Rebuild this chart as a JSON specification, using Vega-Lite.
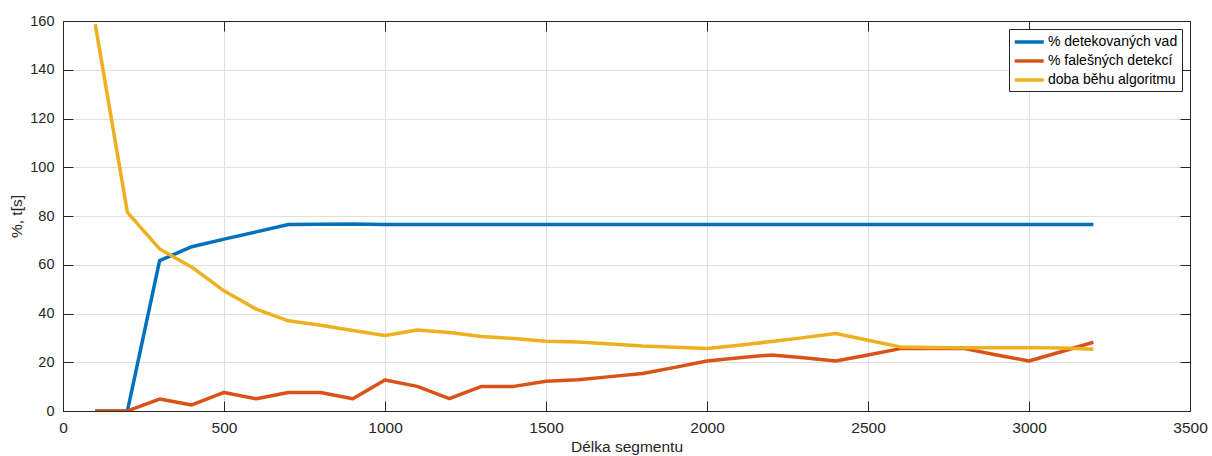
{
  "$schema": "https://vega.github.io/schema/vega-lite/v6.json",
  "width": 1127,
  "height": 390,
  "autosize": {"type": "none"},
  "padding": {"left": 63, "top": 21, "right": 22, "bottom": 45},
  "background": "white",
  "config": {
    "font": "Liberation Sans",
    "view": {"stroke": "#262626", "strokeWidth": 1}
  },
  "data": {
    "values": [
      {"delka": 100, "serie": "% detekovaných vad", "hodnota": 0},
      {"delka": 200, "serie": "% detekovaných vad", "hodnota": 0},
      {"delka": 300, "serie": "% detekovaných vad", "hodnota": 61.7},
      {"delka": 400, "serie": "% detekovaných vad", "hodnota": 67.4},
      {"delka": 500, "serie": "% detekovaných vad", "hodnota": 70.5},
      {"delka": 600, "serie": "% detekovaných vad", "hodnota": 73.5},
      {"delka": 700, "serie": "% detekovaných vad", "hodnota": 76.5},
      {"delka": 800, "serie": "% detekovaných vad", "hodnota": 76.6},
      {"delka": 900, "serie": "% detekovaných vad", "hodnota": 76.7},
      {"delka": 1000, "serie": "% detekovaných vad", "hodnota": 76.5},
      {"delka": 1100, "serie": "% detekovaných vad", "hodnota": 76.5},
      {"delka": 1200, "serie": "% detekovaných vad", "hodnota": 76.5},
      {"delka": 1300, "serie": "% detekovaných vad", "hodnota": 76.5},
      {"delka": 1400, "serie": "% detekovaných vad", "hodnota": 76.5},
      {"delka": 1500, "serie": "% detekovaných vad", "hodnota": 76.5},
      {"delka": 1600, "serie": "% detekovaných vad", "hodnota": 76.5},
      {"delka": 1700, "serie": "% detekovaných vad", "hodnota": 76.5},
      {"delka": 1800, "serie": "% detekovaných vad", "hodnota": 76.5},
      {"delka": 1900, "serie": "% detekovaných vad", "hodnota": 76.5},
      {"delka": 2000, "serie": "% detekovaných vad", "hodnota": 76.5},
      {"delka": 2100, "serie": "% detekovaných vad", "hodnota": 76.5},
      {"delka": 2200, "serie": "% detekovaných vad", "hodnota": 76.5},
      {"delka": 2300, "serie": "% detekovaných vad", "hodnota": 76.5},
      {"delka": 2400, "serie": "% detekovaných vad", "hodnota": 76.5},
      {"delka": 2500, "serie": "% detekovaných vad", "hodnota": 76.5},
      {"delka": 2600, "serie": "% detekovaných vad", "hodnota": 76.5},
      {"delka": 2700, "serie": "% detekovaných vad", "hodnota": 76.5},
      {"delka": 2800, "serie": "% detekovaných vad", "hodnota": 76.5},
      {"delka": 2900, "serie": "% detekovaných vad", "hodnota": 76.5},
      {"delka": 3000, "serie": "% detekovaných vad", "hodnota": 76.5},
      {"delka": 3100, "serie": "% detekovaných vad", "hodnota": 76.5},
      {"delka": 3200, "serie": "% detekovaných vad", "hodnota": 76.5},

      {"delka": 100, "serie": "% falešných detekcí", "hodnota": 0},
      {"delka": 200, "serie": "% falešných detekcí", "hodnota": 0},
      {"delka": 300, "serie": "% falešných detekcí", "hodnota": 4.9},
      {"delka": 400, "serie": "% falešných detekcí", "hodnota": 2.5},
      {"delka": 500, "serie": "% falešných detekcí", "hodnota": 7.6},
      {"delka": 600, "serie": "% falešných detekcí", "hodnota": 5.0},
      {"delka": 700, "serie": "% falešných detekcí", "hodnota": 7.6},
      {"delka": 800, "serie": "% falešných detekcí", "hodnota": 7.6},
      {"delka": 900, "serie": "% falešných detekcí", "hodnota": 5.0},
      {"delka": 1000, "serie": "% falešných detekcí", "hodnota": 12.7},
      {"delka": 1100, "serie": "% falešných detekcí", "hodnota": 10.1},
      {"delka": 1200, "serie": "% falešných detekcí", "hodnota": 5.1},
      {"delka": 1300, "serie": "% falešných detekcí", "hodnota": 10.1},
      {"delka": 1400, "serie": "% falešných detekcí", "hodnota": 10.1},
      {"delka": 1500, "serie": "% falešných detekcí", "hodnota": 12.2},
      {"delka": 1600, "serie": "% falešných detekcí", "hodnota": 12.8},
      {"delka": 1700, "serie": "% falešných detekcí", "hodnota": 14.1},
      {"delka": 1800, "serie": "% falešných detekcí", "hodnota": 15.4},
      {"delka": 1900, "serie": "% falešných detekcí", "hodnota": 17.9},
      {"delka": 2000, "serie": "% falešných detekcí", "hodnota": 20.5},
      {"delka": 2100, "serie": "% falešných detekcí", "hodnota": 21.8},
      {"delka": 2200, "serie": "% falešných detekcí", "hodnota": 23.0},
      {"delka": 2300, "serie": "% falešných detekcí", "hodnota": 21.8},
      {"delka": 2400, "serie": "% falešných detekcí", "hodnota": 20.5},
      {"delka": 2500, "serie": "% falešných detekcí", "hodnota": 23.0},
      {"delka": 2600, "serie": "% falešných detekcí", "hodnota": 25.6},
      {"delka": 2700, "serie": "% falešných detekcí", "hodnota": 25.6},
      {"delka": 2800, "serie": "% falešných detekcí", "hodnota": 25.6},
      {"delka": 2900, "serie": "% falešných detekcí", "hodnota": 23.0},
      {"delka": 3000, "serie": "% falešných detekcí", "hodnota": 20.5},
      {"delka": 3100, "serie": "% falešných detekcí", "hodnota": 24.3},
      {"delka": 3200, "serie": "% falešných detekcí", "hodnota": 28.2},

      {"delka": 100, "serie": "doba běhu algoritmu", "hodnota": 158.7},
      {"delka": 200, "serie": "doba běhu algoritmu", "hodnota": 81.5},
      {"delka": 300, "serie": "doba běhu algoritmu", "hodnota": 66.5},
      {"delka": 400, "serie": "doba běhu algoritmu", "hodnota": 59.0},
      {"delka": 500, "serie": "doba běhu algoritmu", "hodnota": 49.3},
      {"delka": 600, "serie": "doba běhu algoritmu", "hodnota": 41.8},
      {"delka": 700, "serie": "doba běhu algoritmu", "hodnota": 37.0},
      {"delka": 800, "serie": "doba běhu algoritmu", "hodnota": 35.2},
      {"delka": 900, "serie": "doba běhu algoritmu", "hodnota": 33.0},
      {"delka": 1000, "serie": "doba běhu algoritmu", "hodnota": 31.0},
      {"delka": 1100, "serie": "doba běhu algoritmu", "hodnota": 33.2},
      {"delka": 1200, "serie": "doba běhu algoritmu", "hodnota": 32.2},
      {"delka": 1300, "serie": "doba běhu algoritmu", "hodnota": 30.6},
      {"delka": 1400, "serie": "doba běhu algoritmu", "hodnota": 29.7},
      {"delka": 1500, "serie": "doba běhu algoritmu", "hodnota": 28.6},
      {"delka": 1600, "serie": "doba běhu algoritmu", "hodnota": 28.3},
      {"delka": 1700, "serie": "doba běhu algoritmu", "hodnota": 27.5},
      {"delka": 1800, "serie": "doba běhu algoritmu", "hodnota": 26.7},
      {"delka": 1900, "serie": "doba běhu algoritmu", "hodnota": 26.2},
      {"delka": 2000, "serie": "doba běhu algoritmu", "hodnota": 25.6},
      {"delka": 2100, "serie": "doba běhu algoritmu", "hodnota": 27.0},
      {"delka": 2200, "serie": "doba běhu algoritmu", "hodnota": 28.5},
      {"delka": 2300, "serie": "doba běhu algoritmu", "hodnota": 30.1},
      {"delka": 2400, "serie": "doba běhu algoritmu", "hodnota": 31.8},
      {"delka": 2500, "serie": "doba běhu algoritmu", "hodnota": 29.0},
      {"delka": 2600, "serie": "doba běhu algoritmu", "hodnota": 26.3},
      {"delka": 2700, "serie": "doba běhu algoritmu", "hodnota": 26.1},
      {"delka": 2800, "serie": "doba běhu algoritmu", "hodnota": 25.9},
      {"delka": 2900, "serie": "doba běhu algoritmu", "hodnota": 25.9},
      {"delka": 3000, "serie": "doba běhu algoritmu", "hodnota": 26.0},
      {"delka": 3100, "serie": "doba běhu algoritmu", "hodnota": 25.8},
      {"delka": 3200, "serie": "doba běhu algoritmu", "hodnota": 25.3}
    ]
  },
  "layer": [
    {
      "mark": {"type": "line", "strokeWidth": 3.5, "clip": true, "strokeJoin": "round"},
      "encoding": {
        "x": {
          "field": "delka",
          "type": "quantitative",
          "scale": {"domain": [0, 3500], "nice": false, "zero": false},
          "axis": {
            "orient": "bottom",
            "values": [0, 500, 1000, 1500, 2000, 2500, 3000, 3500],
            "format": "d",
            "grid": true,
            "gridColor": "#dfdfdf",
            "gridWidth": 1,
            "domainColor": "#262626",
            "tickColor": "#262626",
            "tickSize": -10,
            "labelFontSize": 15.5,
            "labelColor": "#262626",
            "labelPadding": 19,
            "labelFlush": false,
            "title": "Délka segmentu",
            "titleFontSize": 15.5,
            "titleFontWeight": "normal",
            "titleColor": "#262626",
            "titlePadding": 4
          }
        },
        "y": {
          "field": "hodnota",
          "type": "quantitative",
          "scale": {"domain": [0, 160], "nice": false},
          "axis": {
            "orient": "left",
            "values": [0, 20, 40, 60, 80, 100, 120, 140, 160],
            "format": "d",
            "grid": true,
            "gridColor": "#dfdfdf",
            "gridWidth": 1,
            "domainColor": "#262626",
            "tickColor": "#262626",
            "tickSize": -10,
            "labelFontSize": 14.5,
            "labelColor": "#262626",
            "labelPadding": 19,
            "labelFlush": false,
            "title": "%, t[s]",
            "titleFontSize": 15.5,
            "titleFontWeight": "normal",
            "titleColor": "#262626",
            "titlePadding": 5
          }
        },
        "color": {
          "field": "serie",
          "type": "nominal",
          "scale": {
            "domain": ["% detekovaných vad", "% falešných detekcí", "doba běhu algoritmu"],
            "range": ["#0072BD", "#D95319", "#EDB120"]
          },
          "legend": {
            "title": null,
            "orient": "none",
            "legendX": 946,
            "legendY": 8,
            "direction": "vertical",
            "fillColor": "white",
            "strokeColor": "#262626",
            "padding": 4,
            "symbolType": "M-1,0H3",
            "symbolSize": 210,
            "symbolStrokeWidth": 3.5,
            "labelFontSize": 14,
            "labelColor": "#000000",
            "labelOffset": 17,
            "labelLimit": 300,
            "rowPadding": 3
          }
        }
      }
    },
    {
      "mark": {"type": "point", "opacity": 0},
      "encoding": {
        "x": {
          "field": "delka",
          "type": "quantitative",
          "axis": {
            "orient": "top",
            "values": [0, 500, 1000, 1500, 2000, 2500, 3000, 3500],
            "grid": false,
            "labels": false,
            "title": null,
            "domainColor": "#262626",
            "tickColor": "#262626",
            "tickSize": -10
          }
        },
        "y": {
          "field": "hodnota",
          "type": "quantitative",
          "axis": {
            "orient": "right",
            "values": [0, 20, 40, 60, 80, 100, 120, 140, 160],
            "grid": false,
            "labels": false,
            "title": null,
            "domainColor": "#262626",
            "tickColor": "#262626",
            "tickSize": -10
          }
        }
      }
    }
  ],
  "resolve": {"axis": {"x": "independent", "y": "independent"}}
}
